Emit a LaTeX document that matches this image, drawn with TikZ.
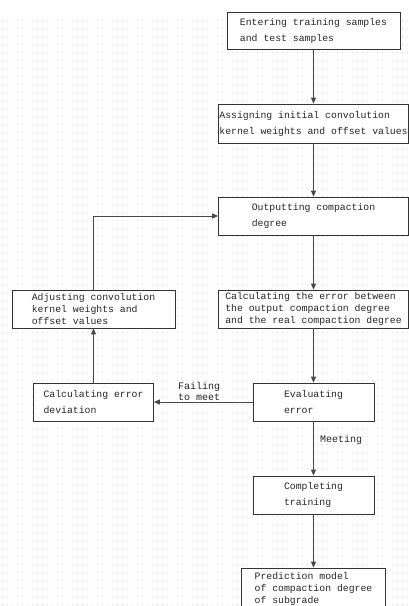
\documentclass[tikz,border=0pt]{standalone}
\usepackage{fontspec}
\newfontfamily\monofam{Liberation Mono}
\usetikzlibrary{arrows.meta}
\tikzset{
  box/.style={draw=black!80, line width=0.8pt, fill=white, rectangle, align=left, inner sep=0pt,
    font=\monofam\fontsize{9.8}{16}\selectfont, text=black!85},
  tight/.style={font=\monofam\fontsize{9.8}{11.8}\selectfont},
  conn/.style={draw=black!72, line width=1pt, -{Triangle[length=6pt,width=5pt]}},
  lbl/.style={font=\monofam\fontsize{10}{11}\selectfont, text=black!85, align=center, inner sep=1pt},
  bgdots/.style={draw=black!14, line width=0.5pt, dash pattern=on 0.7pt off 4.3pt}
}
\begin{document}
\begin{tikzpicture}[x=1pt,y=-1pt]
\clip (0,0) rectangle (409,606);
\fill[white] (0,0) rectangle (409,606);
\foreach \r in {20,28,...,606} { \draw[bgdots] (2,\r) -- (409,\r); }

\node[box, minimum width=173pt, minimum height=37pt] (n1) at (313.5,30.5) {Entering training samples\\and test samples};
\node[box, minimum width=190pt, minimum height=39pt] (n2) at (313.5,123.5) {Assigning initial convolution\\kernel weights and offset values};
\node[box, minimum width=190pt, minimum height=38pt] (n3) at (313.5,216) {Outputting compaction\\degree};
\node[box, tight, minimum width=190pt, minimum height=38pt] (n4) at (313.5,309) {Calculating the error between\\the output compaction degree\\and the real compaction degree};
\node[box, tight, minimum width=163pt, minimum height=38pt] (n5) at (93.5,309) {Adjusting convolution\\kernel weights and\\offset values};
\node[box, minimum width=121pt, minimum height=38pt] (n6) at (313.5,402) {Evaluating\\error};
\node[box, minimum width=120pt, minimum height=38pt] (n7) at (93.5,402) {Calculating error\\deviation};
\node[box, minimum width=121pt, minimum height=38pt] (n8) at (313.5,495) {Completing\\training};
\node[box, tight, minimum width=144pt, minimum height=42pt] (n9) at (313.5,589) {Prediction model\\of compaction degree\\of subgrade};

\draw[conn] (n1) -- (n2);
\draw[conn] (n2) -- (n3);
\draw[conn] (n3) -- (n4);
\draw[conn] (n4) -- (n6);
\draw[conn] (n6) -- node[lbl, above, pos=0.5, xshift=-4pt] (lf) {Failing\\to meet} (n7);
\draw[conn] (n7) -- (n5);
\draw[conn] (n5) |- (n3);
\draw[conn] (n6) -- node[lbl, right, pos=0.35, xshift=5pt] (lm) {Meeting} (n8);
\draw[conn] (n8) -- (n9);
\end{tikzpicture}
\end{document}
